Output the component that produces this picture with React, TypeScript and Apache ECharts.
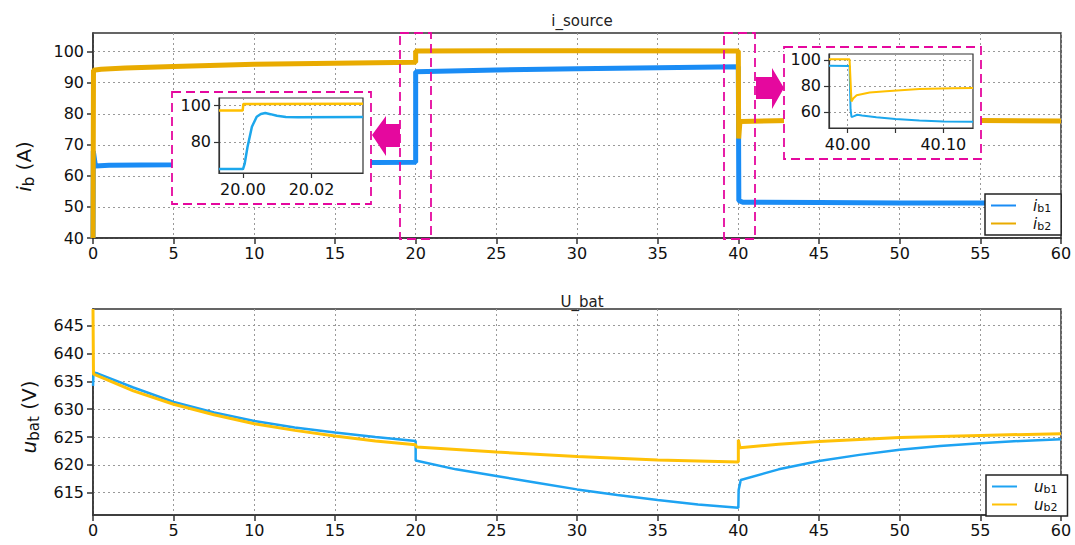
import React, { useEffect, useRef } from 'react';
import * as echarts from 'echarts';

const FONT = 'DejaVu Sans, Verdana, sans-serif';
const MAG = '#e5089e';
const BLUE_TOP = '#1a8cf5';
const ORANGE_TOP = '#e9ab00';
const BLUE_BOT = '#1ea3f2';
const ORANGE_BOT = '#ffc107';
const BLUE_IN = '#1ca7ec';
const ORANGE_IN = '#ffc000';

const xTicks = [0, 5, 10, 15, 20, 25, 30, 35, 40, 45, 50, 55, 60];
const ibTicks = [40, 50, 60, 70, 80, 90, 100];
const ubTicks = [615, 620, 625, 630, 635, 640, 645];
const inset1XTicks = [20.0, 20.02];
const inset1YTicks = [80, 100];
const inset2XTicks = [40.0, 40.1];
const inset2XGrid = [40.0, 40.05, 40.1];
const inset2YTicks = [60, 80, 100];

const ib1 = [
  [0, 40], [0.02, 68], [0.15, 63.2], [1, 63.4], [5, 63.6], [10, 63.9], [15, 64.2], [20, 64.4],
  [20, 93.5], [25, 94.1], [30, 94.5], [35, 94.8], [40, 95.1], [40.03, 52], [40.3, 51.5],
  [45, 51.4], [50, 51.3], [55, 51.3], [60, 51.2],
];
const ib2 = [
  [0, 40], [0.03, 94], [0.5, 94.3], [2, 94.7], [5, 95.2], [10, 95.9], [15, 96.3], [20, 96.6],
  [20, 100.2], [30, 100.3], [40, 100.2], [40.02, 72], [40.1, 77.5], [45, 78], [50, 77.9],
  [55, 77.8], [60, 77.7],
];
const ub1 = [
  [0, 634.2], [0.03, 636.6], [0.3, 636.4], [2.5, 633.9], [5, 631.3], [7.5, 629.4], [10, 627.9],
  [12.5, 626.7], [15, 625.8], [17.5, 625], [20, 624.3], [20, 620.8], [22.5, 619.2], [25, 618],
  [27.5, 616.8], [30, 615.6], [32.5, 614.6], [35, 613.7], [37.5, 612.9], [40, 612.3],
  [40.02, 615.5], [40.15, 617.3], [42.5, 619.2], [45, 620.7], [47.5, 621.8], [50, 622.7],
  [52.5, 623.4], [55, 623.9], [57.5, 624.3], [60, 624.6],
];
const ub2 = [
  [0, 648], [0.03, 636.3], [0.3, 636.0], [2.5, 633.3], [5, 630.9], [7.5, 629], [10, 627.4],
  [12.5, 626.2], [15, 625.2], [17.5, 624.3], [20, 623.6], [20.05, 623.2], [25, 622.3],
  [30, 621.5], [35, 620.9], [40, 620.5], [40, 624.5], [40.1, 623.1], [42.5, 623.7],
  [45, 624.2], [50, 624.9], [55, 625.3], [60, 625.6],
];
const inset1B1 = [
  [19.993, 65], [20.0, 65], [20.0005, 68], [20.0013, 77], [20.0026, 88.3], [20.004, 93.8],
  [20.0052, 95.3], [20.0065, 95.8], [20.008, 95.2], [20.0099, 94.3], [20.0125, 93.7],
  [20.016, 93.5], [20.035, 93.6],
];
const inset1B2 = [[19.993, 97.2], [19.9999, 97.2], [20.0001, 100.8], [20.035, 100.9]];
const inset2B1 = [
  [39.9805, 95.5], [40.002, 95.3], [40.003, 62], [40.004, 56], [40.006, 56.5], [40.01, 57.7],
  [40.015, 57.2], [40.03, 55.8], [40.05, 54.5], [40.075, 53.3], [40.1, 52.6], [40.131, 52.3],
];
const inset2B2 = [
  [39.9805, 100.5], [40.002, 100.5], [40.004, 67.9], [40.006, 70.5], [40.0094, 72.8],
  [40.023, 74.9], [40.04, 75.9], [40.075, 77.5], [40.11, 78.2], [40.131, 78.4],
];

const mainX = (gridIndex: number) => ({
  type: 'value', gridIndex, min: 0, max: 60,
  axisLine: { onZero: false, lineStyle: { color: '#333', width: 1.5 } },
  axisTick: { length: 6, customValues: xTicks, lineStyle: { color: '#333', width: 1.5 } },
  axisLabel: { customValues: xTicks, fontSize: 16, color: '#111', fontFamily: FONT, margin: 7 },
  splitLine: { show: true, lineStyle: { type: [2, 3], color: '#999' } },
});

const mainY = (gridIndex: number, min: number, max: number, ticks: number[], name: string, gap: number, shift: number) => ({
  type: 'value', gridIndex, min, max,
  name, nameLocation: 'middle', nameRotate: 90, nameGap: gap,
  nameTextStyle: {
    fontFamily: FONT, color: '#111', fontSize: 20, padding: [0, shift, 0, 0],
    rich: {
      i: { fontStyle: 'italic', fontSize: 20, fontFamily: FONT, color: '#111' },
      s: { fontSize: 15, fontFamily: FONT, color: '#111', padding: [9, 0, 0, 0] },
      n: { fontSize: 20, fontFamily: FONT, color: '#111' },
    },
  },
  axisLine: { onZero: false, lineStyle: { color: '#333', width: 1.5 } },
  axisTick: { length: 6, customValues: ticks, lineStyle: { color: '#333', width: 1.5 } },
  axisLabel: { customValues: ticks, fontSize: 16, color: '#111', fontFamily: FONT, margin: 9 },
  splitLine: { show: true, lineStyle: { type: [2, 3], color: '#999' } },
});

const insetX = (gridIndex: number, min: number, max: number, ticks: number[], grid: number[]) => ({
  type: 'value', gridIndex, min, max, z: 100,
  axisLine: { onZero: false, lineStyle: { color: '#333', width: 1.2 } },
  axisTick: { length: 5, customValues: grid, lineStyle: { color: '#333', width: 1.2 } },
  axisLabel: {
    customValues: ticks, fontSize: 16, color: '#111', fontFamily: FONT, margin: 8,
    formatter: (v: number) => v.toFixed(2),
  },
  splitLine: { show: true, lineStyle: { type: [2, 3], color: '#999' } },
});

const insetY = (gridIndex: number, min: number, max: number, ticks: number[]) => ({
  type: 'value', gridIndex, min, max, z: 100,
  axisLine: { onZero: false, lineStyle: { color: '#333', width: 1.2 } },
  axisTick: { length: 5, customValues: ticks, lineStyle: { color: '#333', width: 1.2 } },
  axisLabel: { customValues: ticks, fontSize: 16, color: '#111', fontFamily: FONT, margin: 8 },
  splitLine: { show: true, lineStyle: { type: [2, 3], color: '#999' } },
});

const line = (name: string, data: number[][], color: string, width: number, xi: number, z = 2) => ({
  type: 'line', name, data, xAxisIndex: xi, yAxisIndex: xi, showSymbol: false, symbol: 'none',
  color, lineStyle: { color, width }, itemStyle: { color }, z,
});

const legendNames: Record<string, string> = {
  ib1: '{v|i}{s|b1}', ib2: '{v|i}{s|b2}', ub1: '{v|u}{s|b1}', ub2: '{v|u}{s|b2}',
};

const legend = (data: string[], left: number, top: number) => ({
  data, left, top, orient: 'vertical', icon: 'rect', itemWidth: 25, itemHeight: 2, itemGap: 2,
  backgroundColor: '#fff', borderColor: '#222', borderWidth: 1.5, borderRadius: 0,
  padding: [4, 10, 3, 6],
  formatter: (n: string) => legendNames[n],
  textStyle: {
    fontFamily: FONT, color: '#111', padding: [0, 0, 0, 12],
    rich: {
      v: { fontStyle: 'italic', fontSize: 15, fontFamily: FONT, color: '#111' },
      s: { fontSize: 11, fontFamily: FONT, color: '#111', padding: [6, 0, 0, 0] },
    },
  },
});

export default function App() {
  const ref = useRef<HTMLDivElement>(null);
  useEffect(() => {
    if (!ref.current) return;
    const chart = echarts.init(ref.current, undefined, { renderer: 'svg' });
    chart.setOption({
      animation: false,
      backgroundColor: '#fff',
      title: [
        { text: 'i_source', left: 577, top: 8, textAlign: 'center', textStyle: { fontFamily: FONT, fontSize: 15, fontWeight: 'normal', color: '#222' } },
        { text: 'U_bat', left: 577, top: 289, textAlign: 'center', textStyle: { fontFamily: FONT, fontSize: 15, fontWeight: 'normal', color: '#222' } },
      ],
      grid: [
        { left: 93, top: 33, width: 968, height: 205, show: true, borderColor: '#333', borderWidth: 1.5 },
        { left: 93, top: 309, width: 968, height: 206, show: true, borderColor: '#333', borderWidth: 1.5 },
        { left: 219, top: 98, width: 144, height: 75, show: true, borderColor: '#333', borderWidth: 1.2, backgroundColor: '#fff', z: 100 },
        { left: 829, top: 54, width: 144, height: 74, show: true, borderColor: '#333', borderWidth: 1.2, backgroundColor: '#fff', z: 100 },
      ],
      xAxis: [
        mainX(0), mainX(1),
        insetX(2, 19.993, 20.035, inset1XTicks, inset1XTicks),
        insetX(3, 39.9805, 40.131, inset2XTicks, inset2XGrid),
      ],
      yAxis: [
        mainY(0, 40, 106, ibTicks, '{i|i}{s|b}{n| (A)}', 57, 62),
        mainY(1, 611, 648, ubTicks, '{i|u}{s|bat}{n| (V)}', 52, 10),
        insetY(2, 62.8, 104.1, inset1YTicks),
        insetY(3, 47.5, 104.6, inset2YTicks),
      ],
      legend: [legend(['ib1', 'ib2'], 985, 194), legend(['ub1', 'ub2'], 986, 475)],
      graphic: [
        { type: 'rect', z: 50, shape: { x: 400, y: 33, width: 31, height: 206 }, style: { fill: 'none', stroke: MAG, lineWidth: 1.8, lineDash: [9, 5] } },
        { type: 'rect', z: 50, shape: { x: 724, y: 33, width: 31, height: 206 }, style: { fill: 'none', stroke: MAG, lineWidth: 1.8, lineDash: [9, 5] } },
        { type: 'rect', z: 50, shape: { x: 172, y: 92, width: 199, height: 112 }, style: { fill: '#fff', stroke: MAG, lineWidth: 1.8, lineDash: [9, 5] } },
        { type: 'rect', z: 50, shape: { x: 784, y: 47, width: 197, height: 112 }, style: { fill: '#fff', stroke: MAG, lineWidth: 1.8, lineDash: [9, 5] } },
        { type: 'polygon', z: 50, shape: { points: [[372, 135], [386, 116], [386, 124], [400, 124], [400, 147], [386, 147], [386, 156]] }, style: { fill: MAG } },
        { type: 'polygon', z: 50, shape: { points: [[756, 77], [772, 77], [772, 68], [784, 88], [772, 109], [772, 99], [756, 99]] }, style: { fill: MAG } },
      ],
      series: [
        line('ib1', ib1, BLUE_TOP, 5, 0),
        line('ib2', ib2, ORANGE_TOP, 5, 0),
        line('ub1', ub1, BLUE_BOT, 2.5, 1),
        line('ub2', ub2, ORANGE_BOT, 3, 1),
        line('in1b1', inset1B1, BLUE_IN, 2.5, 2, 100),
        line('in1b2', inset1B2, ORANGE_IN, 2.5, 2, 100),
        line('in2b1', inset2B1, BLUE_IN, 2, 3, 100),
        line('in2b2', inset2B2, ORANGE_IN, 2, 3, 100),
      ],
    });
    return () => chart.dispose();
  }, []);
  return <div ref={ref} style={{ position: 'absolute', left: 0, top: 0, width: 1075, height: 545 }} />;
}
